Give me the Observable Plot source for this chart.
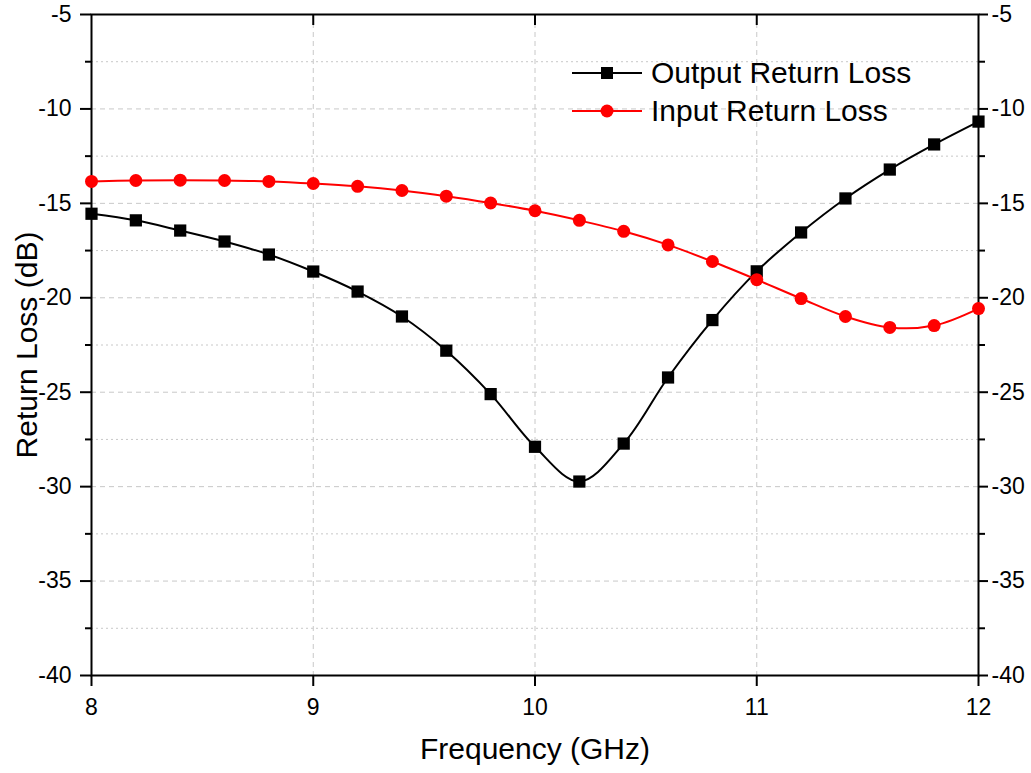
<!DOCTYPE html>
<html>
<head>
<meta charset="utf-8">
<script src="https://cdn.jsdelivr.net/npm/d3@7"></script>
<script src="https://cdn.jsdelivr.net/npm/@observablehq/plot@0.6"></script>
<style>
  html, body { margin: 0; padding: 0; background: #fff; }
  #wrap { position: relative; width: 1031px; height: 773px; font-family: "Liberation Sans", Arial, sans-serif; }
  #legend { position: absolute; left: 572px; top: 54px; font-size: 30px; line-height: 38px; color: #000; }
  #legend .row { display: flex; align-items: center; height: 38px; }
  #legend svg { margin-right: 9px; }
</style>
</head>
<body>
<div id="wrap">
  <div id="chart"></div>
  <div id="legend"></div>
</div>
<script>
const frequency = [8.0, 8.2, 8.4, 8.6, 8.8, 9.0, 9.2, 9.4, 9.6, 9.8, 10.0, 10.2, 10.4, 10.6, 10.8, 11.0, 11.2, 11.4, 11.6, 11.8, 12.0];
const outputReturnLoss = [-15.55, -15.9, -16.44, -17.02, -17.71, -18.61, -19.67, -20.99, -22.8, -25.1, -27.89, -29.73, -27.72, -24.22, -21.18, -18.6, -16.54, -14.74, -13.21, -11.88, -10.67];
const inputReturnLoss = [-13.84, -13.79, -13.77, -13.79, -13.84, -13.95, -14.1, -14.32, -14.62, -14.98, -15.39, -15.9, -16.48, -17.2, -18.08, -19.04, -20.04, -20.99, -21.57, -21.47, -20.57];
const seriesNames = ["Output Return Loss", "Input Return Loss"];
const seriesColors = ["#000000", "#ff0000"];
const xTicks = [8, 9, 10, 11, 12];
const xInnerGrid = [9, 10, 11];
const yTicks = [-40, -35, -30, -25, -20, -15, -10, -5];
const yMinorTicks = [-37.5, -32.5, -27.5, -22.5, -17.5, -12.5, -7.5];
const xLabel = "Frequency (GHz)";
const yLabel = "Return Loss (dB)";

const outData = frequency.map((f, i) => ({f, v: outputReturnLoss[i]}));
const inData = frequency.map((f, i) => ({f, v: inputReturnLoss[i]}));

const W = 1031, H = 773;
const mTop = 14, mBottom = 98, mLeft = 91, mRight = 53;
const innerH = H - mTop - mBottom;
const fmt = d => String(d);

const chart = Plot.plot({
  width: W,
  height: H,
  marginTop: mTop,
  marginBottom: mBottom,
  marginLeft: mLeft,
  marginRight: mRight,
  style: {fontFamily: "'Liberation Sans', Arial, sans-serif", color: "#000", background: "#fff", overflow: "visible"},
  x: {domain: [8, 12]},
  y: {domain: [-40, -5]},
  marks: [
    Plot.gridY(yMinorTicks, {stroke: "#c8c8c8", strokeOpacity: 1, strokeDasharray: "2,3", strokeWidth: 1}),
    Plot.gridY(yTicks.slice(1, -1), {stroke: "#c8c8c8", strokeOpacity: 1, strokeDasharray: "5,4", strokeWidth: 1}),
    Plot.gridX(xInnerGrid, {stroke: "#c8c8c8", strokeOpacity: 1, strokeDasharray: "5,4", strokeWidth: 1}),
    // left axis
    Plot.axisY(yTicks, {anchor: "left", tickSize: 11, tickPadding: 9, fontSize: 23, strokeWidth: 2, label: null, tickFormat: fmt}),
    Plot.axisY(yMinorTicks, {anchor: "left", tickSize: 6, text: null, strokeWidth: 2, label: null}),
    // right axis
    Plot.axisY(yTicks, {anchor: "right", tickSize: 9, tickPadding: 4, fontSize: 23, strokeWidth: 2, label: null, tickFormat: fmt}),
    Plot.axisY(yMinorTicks, {anchor: "right", tickSize: 6, text: null, strokeWidth: 2, label: null}),
    // bottom axis
    Plot.axisX(xTicks, {anchor: "bottom", tickSize: 11, tickPadding: 12, fontSize: 23, strokeWidth: 2, label: null, tickFormat: fmt}),
    // top inward ticks
    Plot.ruleX(xInnerGrid, {stroke: "#000", strokeWidth: 2, insetBottom: innerH - 11}),
    Plot.frame({stroke: "#000", strokeWidth: 2}),
    // series
    Plot.line(outData, {x: "f", y: "v", stroke: seriesColors[0], strokeWidth: 2, curve: "catmull-rom"}),
    Plot.line(inData, {x: "f", y: "v", stroke: seriesColors[1], strokeWidth: 2, curve: "catmull-rom"}),
    Plot.dot(outData, {x: "f", y: "v", symbol: "square", r: 6.9, fill: seriesColors[0], stroke: null}),
    Plot.dot(inData, {x: "f", y: "v", symbol: "circle", r: 6.5, fill: seriesColors[1], stroke: null}),
    // axis titles
    Plot.text([xLabel], {frameAnchor: "bottom", dy: 74, fontSize: 30, lineAnchor: "middle", textAnchor: "middle", fill: "#000"}),
    Plot.text([yLabel], {frameAnchor: "left", dx: -64, rotate: -90, fontSize: 30, lineAnchor: "middle", textAnchor: "middle", fill: "#000"})
  ]
});
document.getElementById("chart").appendChild(chart);

// legend
const legend = d3.select("#legend");
seriesNames.forEach((name, i) => {
  const row = legend.append("div").attr("class", "row");
  const sw = row.append("svg").attr("width", 70).attr("height", 20);
  sw.append("line").attr("x1", 0).attr("x2", 70).attr("y1", 10).attr("y2", 10)
    .attr("stroke", seriesColors[i]).attr("stroke-width", 2);
  if (i === 0) {
    sw.append("rect").attr("x", 29).attr("y", 4).attr("width", 12).attr("height", 12).attr("fill", seriesColors[i]);
  } else {
    sw.append("circle").attr("cx", 35).attr("cy", 10).attr("r", 6.5).attr("fill", seriesColors[i]);
  }
  row.append("span").text(name);
});
</script>
</body>
</html>
